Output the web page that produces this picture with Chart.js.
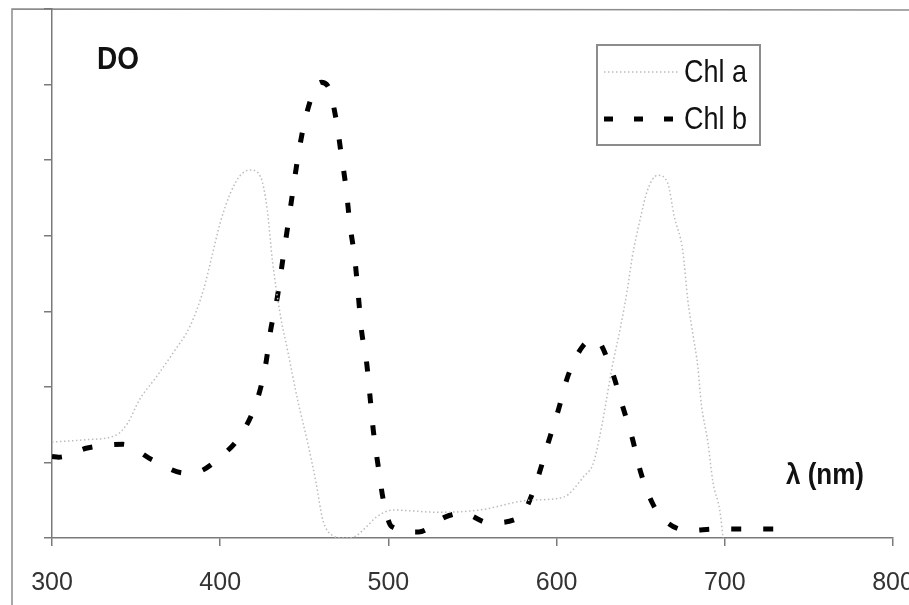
<!DOCTYPE html>
<html>
<head>
<meta charset="utf-8">
<title>DO - Chl a / Chl b</title>
<script src="https://cdn.jsdelivr.net/npm/chart.js@4.4.1/dist/chart.umd.min.js"></script>
<style>
  html, body { margin: 0; padding: 0; background: #fff; }
  #wrap { width: 909px; height: 605px; position: relative; }
</style>
</head>
<body>
<div id="wrap"><canvas id="spectrum"></canvas></div>
<script>
// wavelength (nm) / optical density
const chlaNm = [300, 320, 338, 345, 352, 362, 372, 382, 390, 395, 400, 406, 412, 418, 424, 428, 431, 436, 440, 446, 452, 457, 461, 467, 473, 480, 487, 493, 503, 530, 554, 584, 604, 616, 622, 627, 633, 638, 642, 645, 650, 654, 660, 666, 670, 675, 678, 681, 684, 686, 690, 693, 697, 699];
const chlaOd = [1.27, 1.3, 1.36, 1.52, 1.83, 2.13, 2.45, 2.8, 3.28, 3.72, 4.17, 4.56, 4.8, 4.87, 4.78, 4.34, 3.68, 2.92, 2.49, 1.83, 1.26, 0.73, 0.24, 0.03, 0.0, 0.02, 0.15, 0.28, 0.37, 0.34, 0.37, 0.5, 0.54, 0.81, 1.0, 1.5, 2.26, 2.79, 3.28, 3.72, 4.25, 4.6, 4.8, 4.7, 4.25, 3.8, 3.15, 2.7, 2.26, 1.78, 1.26, 0.73, 0.37, 0.0];

const chlbNm = [300, 304, 321, 342, 360, 379, 386, 400, 413, 422, 427, 430, 434, 437, 440, 443, 446, 450, 456, 460, 464, 469, 472, 475, 477, 480, 482, 484, 487, 489, 491, 494, 497, 502, 518, 534, 544, 560, 577, 582, 589, 595, 601, 607, 616, 623, 633, 639, 645, 650, 657, 663, 678, 696, 719, 740];
const chlbOd = [1.08, 1.07, 1.19, 1.24, 1.03, 0.86, 0.87, 1.07, 1.39, 1.83, 2.29, 2.75, 3.19, 3.65, 4.1, 4.56, 5.01, 5.49, 5.93, 6.03, 5.98, 5.53, 5.07, 4.6, 4.17, 3.7, 3.24, 2.75, 2.33, 1.89, 1.43, 0.94, 0.5, 0.15, 0.08, 0.28, 0.33, 0.2, 0.26, 0.4, 0.81, 1.26, 1.69, 2.16, 2.55, 2.63, 2.2, 1.76, 1.32, 0.87, 0.46, 0.26, 0.1, 0.12, 0.12, 0.12];

const xTicks = [300, 400, 500, 600, 700, 800];
const seriesNames = ['Chl a', 'Chl b'];

const axisGrey = '#7a7a7a';
const chlaStyle = { color: '#bcbcbc', width: 1.5, dash: [1.5, 2.5] };
const chlbStyle = { color: '#000000', width: 5, dash: [10, 22] };
const legendDash = { 'Chl a': [1.5, 2.5], 'Chl b': [9, 21] };

const toPoints = (xs, ys) => xs.map((x, i) => ({ x: x, y: ys[i] }));

// text is a little taller than wide in this figure, so stretch it vertically
function tallText(ctx, text, x, y, font) {
    ctx.save();
    ctx.font = font;
    ctx.textBaseline = 'middle';
    ctx.translate(x, y);
    ctx.scale(1, 1.15);
    ctx.fillText(text, 0, 0);
    ctx.restore();
}

// frame around the plot, the "DO" / "λ (nm)" labels and the boxed legend
const decorations = {
    id: 'decorations',
    beforeDraw(chart) {
        const ctx = chart.ctx;
        ctx.save();
        ctx.strokeStyle = '#8c8c8c';
        ctx.lineWidth = 1.5;
        ctx.beginPath();
        ctx.moveTo(12, 605);
        ctx.lineTo(12, 9);
        ctx.lineTo(909, 10);
        ctx.stroke();
        ctx.restore();
    },
    afterDraw(chart) {
        const ctx = chart.ctx;
        ctx.save();
        ctx.fillStyle = '#111';
        tallText(ctx, 'DO', 97, 60, 'bold 28px "Liberation Sans", Arial, sans-serif');
        tallText(ctx, 'λ (nm)', 786, 476, 'bold 26px "Liberation Sans", Arial, sans-serif');

        // legend box
        ctx.strokeStyle = '#8c8c8c';
        ctx.lineWidth = 2;
        ctx.strokeRect(597, 45, 163, 100);

        const rows = [
            { y: 72, style: chlaStyle, label: seriesNames[0] },
            { y: 119, style: chlbStyle, label: seriesNames[1] }
        ];
        rows.forEach(r => {
            ctx.strokeStyle = r.style.color;
            ctx.lineWidth = r.style.width;
            ctx.setLineDash(legendDash[r.label]);
            ctx.beginPath();
            ctx.moveTo(604, r.y);
            ctx.lineTo(680, r.y);
            ctx.stroke();
            ctx.setLineDash([]);
            ctx.fillStyle = '#111';
            tallText(ctx, r.label, 684, r.y + 1, '27px "Liberation Sans", Arial, sans-serif');
        });
        ctx.restore();
    }
};

new Chart(document.getElementById('spectrum').getContext('2d'), {
    type: 'line',
    data: {
        datasets: [{
            label: seriesNames[0],
            data: toPoints(chlaNm, chlaOd),
            borderColor: chlaStyle.color,
            borderWidth: chlaStyle.width,
            borderDash: chlaStyle.dash,
            pointRadius: 0,
            cubicInterpolationMode: 'monotone',
            fill: false
        }, {
            label: seriesNames[1],
            data: toPoints(chlbNm, chlbOd),
            borderColor: chlbStyle.color,
            borderWidth: chlbStyle.width,
            borderDash: chlbStyle.dash,
            borderCapStyle: 'butt',
            pointRadius: 0,
            cubicInterpolationMode: 'monotone',
            fill: false
        }]
    },
    options: {
        responsive: true,
        maintainAspectRatio: false,
        animation: false,
        layout: { padding: { left: 0, right: 16, top: 9, bottom: 0 } },
        plugins: {
            legend: { display: false },
            tooltip: { enabled: false }
        },
        scales: {
            x: {
                type: 'linear',
                min: xTicks[0],
                max: xTicks[xTicks.length - 1],
                afterBuildTicks: scale => { scale.ticks = xTicks.map(v => ({ value: v })); },
                afterFit: scale => {
                    scale.height = 67;
                    scale.paddingLeft = 0;
                    scale.paddingRight = 0;
                },
                grid: { drawOnChartArea: false, drawTicks: true, tickLength: 8, color: axisGrey, lineWidth: 1.5 },
                border: { color: axisGrey, width: 1.5 },
                ticks: {
                    color: '#333',
                    padding: 22,
                    maxRotation: 0,
                    autoSkip: false,
                    font: { family: '"Liberation Sans", Arial, sans-serif', size: 25 }
                }
            },
            y: {
                type: 'linear',
                min: 0,
                max: 7,
                afterFit: scale => { scale.width = 52; },
                grid: { drawOnChartArea: false, drawTicks: true, tickLength: 8, color: axisGrey, lineWidth: 1.5 },
                border: { color: axisGrey, width: 1.5 },
                ticks: { stepSize: 1, display: false }
            }
        }
    },
    plugins: [decorations]
});
</script>
</body>
</html>
